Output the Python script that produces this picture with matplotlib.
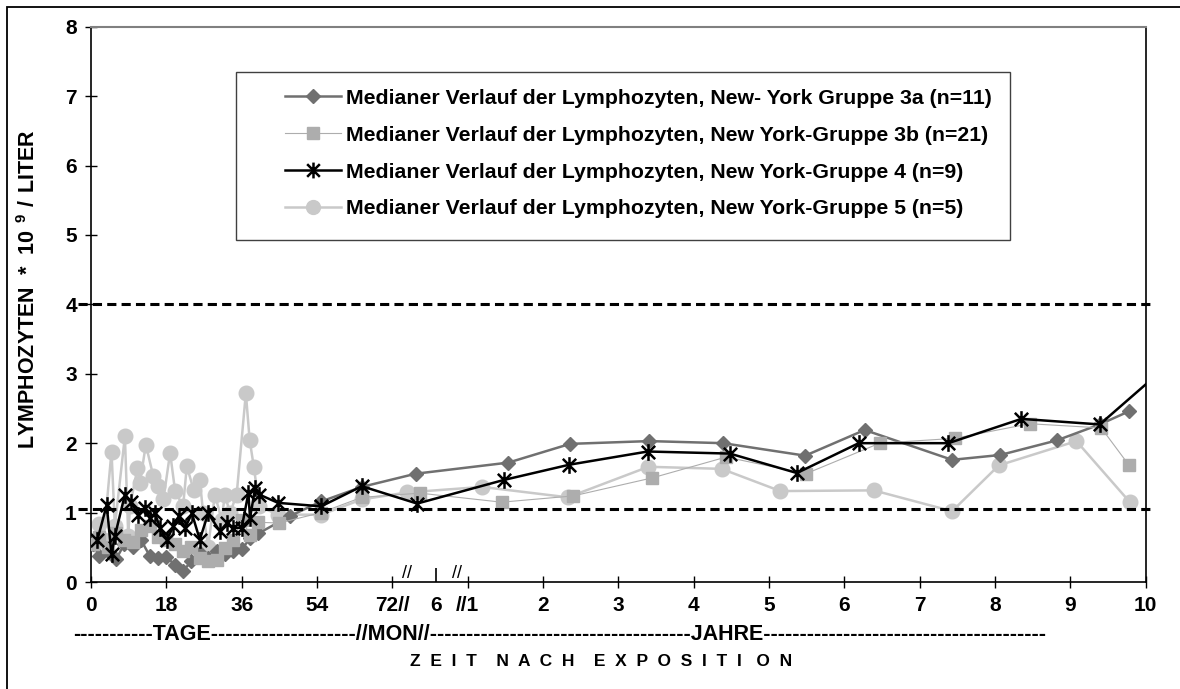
import numpy as np
import matplotlib
matplotlib.use('Agg')
import matplotlib.pyplot as plt
from matplotlib.path import Path
from matplotlib.patches import Rectangle

plt.rcParams['font.family'] = ['Liberation Sans', 'DejaVu Sans']
plt.rcParams['font.weight'] = 'bold'
plt.rcParams['mathtext.fontset'] = 'custom'
plt.rcParams['mathtext.rm'] = 'Liberation Sans:bold'
plt.rcParams['mathtext.bf'] = 'Liberation Sans:bold'

# ---- Daten: erste Phase in Tagen, danach in Jahren ----
g3a_days = [0.5, 2, 4, 6, 8, 10, 12, 14, 16, 18, 20, 22, 24, 26, 28, 30, 32, 34, 36, 38, 40, 47.5, 55, 64.7]
g3a_vals = [0.55, 0.38, 0.45, 0.33, 0.55, 0.50, 0.60, 0.38, 0.34, 0.36, 0.25, 0.16, 0.30, 0.42, 0.35, 0.45,
            0.40, 0.44, 0.47, 0.63, 0.70, 0.95, 1.16, 1.37]
g3a_years = [0.36, 1.54, 2.36, 3.41, 4.39, 5.48, 6.27, 7.43, 8.07, 8.82, 9.39, 9.78]
g3a_yvals = [1.56, 1.72, 1.99, 2.03, 2.00, 1.82, 2.19, 1.76, 1.83, 2.04, 2.27, 2.46]

g3b_days = [0.5, 2, 4, 6, 8, 10, 12, 14, 16, 18, 20, 22, 24, 26, 28, 30, 32, 34, 36, 38, 40, 45, 55, 64.7]
g3b_vals = [0.55, 0.65, 0.50, 0.70, 0.60, 0.58, 0.75, 0.80, 0.65, 0.60, 0.55, 0.45, 0.50, 0.35, 0.30, 0.31,
            0.49, 0.60, 0.90, 0.68, 0.86, 0.85, 1.00, 1.22]
g3b_years = [0.39, 1.45, 2.40, 3.45, 4.43, 5.49, 6.47, 7.47, 8.46, 9.41, 9.78]
g3b_yvals = [1.28, 1.15, 1.24, 1.50, 1.80, 1.56, 2.00, 2.07, 2.28, 2.22, 1.68]

g4_days = [1.5, 3.75, 4.9, 5.7, 8.1, 9.5, 11.3, 12.9, 14.1, 15.3, 16.5, 18.1, 19.7, 21, 22.5, 24.1, 26.0,
           28.0, 30.8, 32.5, 34.0, 36.0, 37.6, 38.0, 39.2, 40.2, 44.7, 55, 64.7]
g4_vals = [0.60, 1.11, 0.40, 0.66, 1.26, 1.15, 0.97, 1.07, 0.92, 0.99, 0.78, 0.61, 0.80, 0.95, 0.78, 0.99,
           0.61, 0.99, 0.73, 0.85, 0.78, 0.78, 1.28, 0.92, 1.35, 1.26, 1.14, 1.09, 1.38]
g4_years = [0.37, 1.48, 2.35, 3.39, 4.48, 5.37, 6.19, 7.38, 8.35, 9.39, 10.3]
g4_yvals = [1.13, 1.47, 1.69, 1.88, 1.85, 1.57, 2.00, 2.00, 2.35, 2.27, 3.13]

g5_days = [1.0, 1.8, 3.0, 4.9, 5.7, 8.1, 8.9, 9.3, 11.1, 11.7, 13.1, 14.9, 16.1, 17.3, 18.9, 20.1, 22.0,
           22.9, 24.5, 26.0, 26.8, 28.0, 29.6, 31.2, 32.0, 33.2, 34.8, 37.0, 37.9, 38.9, 40.2, 44.7, 55, 64.7]
g5_vals = [0.55, 0.83, 0.61, 1.88, 0.80, 2.10, 0.66, 1.09, 1.64, 1.43, 1.98, 1.52, 1.38, 1.19, 1.86, 1.31,
           1.09, 1.67, 1.33, 1.47, 0.99, 0.51, 1.26, 0.90, 1.26, 0.99, 1.26, 2.72, 2.05, 1.66, 1.09, 0.97,
           0.97, 1.19]
g5_years = [0.30, 1.19, 2.33, 3.40, 4.37, 5.15, 6.39, 7.43, 8.05, 9.08, 9.79]
g5_yvals = [1.29, 1.37, 1.22, 1.66, 1.63, 1.31, 1.32, 1.02, 1.68, 2.03, 1.15]

labels = ['Medianer Verlauf der Lymphozyten, New- York Gruppe 3a (n=11)',
          'Medianer Verlauf der Lymphozyten, New York-Gruppe 3b (n=21)',
          'Medianer Verlauf der Lymphozyten, New York-Gruppe 4 (n=9)',
          'Medianer Verlauf der Lymphozyten, New York-Gruppe 5 (n=5)']
ref_lines = [4.0, 1.05]
x_ticklabels = ['0', '18', '36', '54', '72//', '//1', '2', '3', '4', '5', '6', '7', '8', '9', '10']


# gebrochene Zeitachse: 18 Tage pro Einheit, dann Monate, dann 1 Jahr pro Einheit
def pos_days(d):
    return np.asarray(d, dtype=float) / 18.0


def pos_years(y):
    y = np.asarray(y, dtype=float)
    return np.where(y >= 1, y + 4, np.interp(y, [72 / 365, 0.5, 1], [4, 4.576, 5]))


def series(days, vals, years, yvals):
    x = np.concatenate([pos_days(days), pos_years(years)])
    return x, np.concatenate([vals, yvals])


star = Path([(-1, -1), (1, 1), (-1, 1), (1, -1), (0, -1.25), (0, 1.25)],
            [Path.MOVETO, Path.LINETO, Path.MOVETO, Path.LINETO, Path.MOVETO, Path.LINETO])

fig = plt.figure(figsize=(11.8, 6.89), dpi=100)
ax = fig.add_axes([91 / 1180, 107 / 689, (1145.7 - 91) / 1180, (582.3 - 27) / 689])

x5, y5 = series(g5_days, g5_vals, g5_years, g5_yvals)
h5, = ax.plot(x5, y5, color='#c9c9c9', lw=1.8, marker='o', ms=10.5, mec='#c9c9c9', zorder=2)
x3a, y3a = series(g3a_days, g3a_vals, g3a_years, g3a_yvals)
h3a, = ax.plot(x3a, y3a, color='#707070', lw=1.8, marker='D', ms=7, mec='#707070', zorder=3)
x3b, y3b = series(g3b_days, g3b_vals, g3b_years, g3b_yvals)
h3b, = ax.plot(x3b, y3b, color='#adadad', lw=0.8, marker='s', ms=9, mec='#adadad', zorder=4)
x4, y4 = series(g4_days, g4_vals, g4_years, g4_yvals)
h4, = ax.plot(x4, y4, color='black', lw=1.8, marker=star, ms=12, mfc='none', mec='black', mew=1.8, zorder=5)

for r in ref_lines:
    ax.axhline(r, color='black', lw=2.2, dashes=(3, 1.7), zorder=6, clip_on=False, xmin=-0.012, xmax=1.008)

ax.set_xlim(0, 14)
ax.set_ylim(0, 8)
ax.set_xticks(range(15))
ax.set_xticklabels(x_ticklabels)
ax.set_xticks([float(pos_years(0.5))], minor=True)
ax.set_xticklabels(['6'], minor=True)
ax.set_yticks(range(9))
ax.tick_params(axis='both', which='major', direction='inout', length=8.5, width=1, labelsize=15, pad=6)
ax.tick_params(axis='x', which='minor', direction='in', length=10, width=1.2, labelsize=15, pad=10.2)
ax.tick_params(axis='y', pad=6)

for s in ['left', 'bottom', 'right']:
    ax.spines[s].set_linewidth(1.2)
ax.spines['top'].set_color('#808080')
ax.spines['top'].set_linewidth(1.5)

# Achsenbruch-Zeichen
for bx in [4.2, 4.86]:
    ax.text(bx, 0.0, '//', ha='center', va='bottom', fontsize=13, fontweight='normal')

ax.set_ylabel(r'$\mathbf{LYMPHOZYTEN\ *\ 10\ ^{9}\ /\ LITER}$', fontsize=15.5)
ax.yaxis.set_label_coords(-0.048, 0.528)

fig.text(560 / 1180, 1 - 634 / 689,
         '-----------TAGE--------------------//MON//------------------------------------JAHRE'
         '---------------------------------------',
         ha='center', va='center', fontsize=15.5)
fig.text(601 / 1180, 1 - 661 / 689, 'Z  E  I  T    N  A  C  H    E  X  P  O  S  I  T  I   O  N',
         ha='center', va='center', fontsize=12.5)

# Legendenrahmen und Legende
ax.add_patch(Rectangle((0.1375, 0.616), 0.7335, 0.303, transform=ax.transAxes, fill=False,
                       ec='#404040', lw=1, zorder=7))
ax.legend([h3a, h3b, h4, h5], labels, loc='upper left', bbox_to_anchor=(0.184, 0.888), frameon=False,
          borderpad=0, borderaxespad=0, handlelength=2.63, handletextpad=0.25, labelspacing=0.84,
          fontsize=15.3, markerscale=0.95)

fig.patches.append(Rectangle((7 / 1180, -0.5), 2, 1.5 - 7 / 689, transform=fig.transFigure, fill=False,
                             ec='black', lw=1.3))

fig.savefig('out.png', dpi=100)
